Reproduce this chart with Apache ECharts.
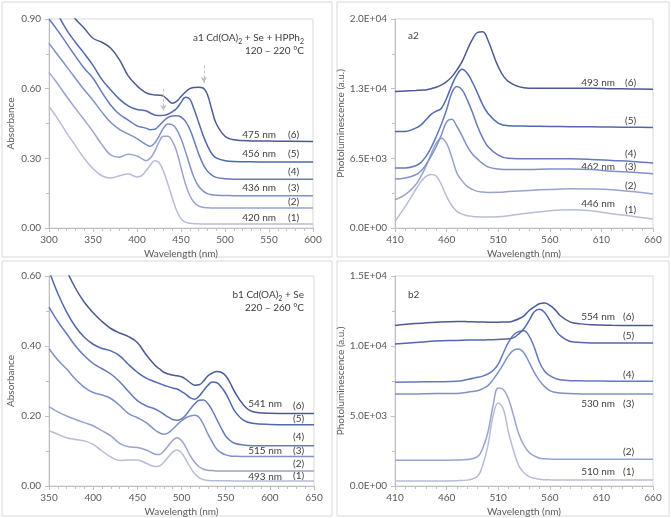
<!DOCTYPE html>
<html><head><meta charset="utf-8">
<script src="https://cdn.jsdelivr.net/npm/echarts@6/dist/echarts.min.js"></script>
<style>html,body{margin:0;padding:0;background:#fff}#c{width:671px;height:518px}</style>
</head><body><div id="c"></div>
<script>
// ---------- DATA ----------
// Panel a1: absorbance, Cd(OA)2 + Se + HPPh2, 120-220 C
const a1X = [300,310,320,330,340,350,360,370,380,390,400,405,410,415,420,425,430,435,440,445,450,455,460,465,470,475,480,485,490,500,510,530,560,600];
const a1Y1 = [0.523,0.47,0.41,0.355,0.30,0.255,0.225,0.215,0.225,0.232,0.22,0.225,0.245,0.27,0.29,0.282,0.245,0.19,0.13,0.075,0.04,0.025,0.02,0.018,0.018,0.017,0.017,0.017,0.017,0.017,0.017,0.017,0.017,0.017];
const a1Y2 = [0.67,0.62,0.566,0.515,0.466,0.415,0.36,0.315,0.305,0.318,0.31,0.30,0.29,0.30,0.33,0.37,0.395,0.395,0.375,0.33,0.26,0.19,0.14,0.11,0.095,0.089,0.087,0.086,0.086,0.086,0.086,0.086,0.086,0.086];
const a1Y3 = [0.795,0.745,0.695,0.645,0.595,0.55,0.50,0.455,0.425,0.405,0.385,0.372,0.36,0.352,0.365,0.395,0.43,0.448,0.445,0.425,0.385,0.33,0.27,0.215,0.18,0.16,0.148,0.143,0.141,0.14,0.139,0.139,0.139,0.139];
const a1Y4 = [0.90,0.85,0.795,0.74,0.688,0.645,0.585,0.53,0.49,0.465,0.44,0.435,0.43,0.423,0.425,0.44,0.46,0.475,0.482,0.483,0.478,0.46,0.425,0.375,0.32,0.275,0.245,0.228,0.218,0.212,0.21,0.21,0.21,0.21];
const a1Y5 = [0.99,0.92,0.853,0.80,0.752,0.70,0.64,0.595,0.555,0.526,0.51,0.508,0.505,0.495,0.487,0.484,0.485,0.49,0.50,0.515,0.54,0.563,0.555,0.51,0.455,0.40,0.355,0.32,0.302,0.29,0.286,0.285,0.284,0.284];
const a1Y6 = [1.05,1.0,0.95,0.90,0.86,0.817,0.80,0.775,0.725,0.655,0.612,0.596,0.583,0.576,0.573,0.572,0.568,0.552,0.537,0.545,0.566,0.585,0.60,0.605,0.606,0.603,0.575,0.51,0.45,0.395,0.38,0.375,0.374,0.373];

// Panel a2: photoluminescence
const a2X = [410,420,430,435,440,445,450,455,460,465,470,475,480,485,490,495,500,510,520,540,560,580,600,620,640,660];
const a2Y1 = [620,2018,3570,4300,4813,5000,4850,4036,2950,2100,1553,1300,1149,1080,1050,1030,1025,1050,1149,1397,1615,1708,1615,1335,1087,838];
const a2Y2 = [2639,3105,4036,4800,5744,6900,7918,8384,7900,6600,5123,4400,3881,3600,3416,3350,3322,3330,3400,3509,3600,3664,3640,3571,3400,3167];
const a2Y3 = [4564,4658,4968,5300,5900,6700,7607,8700,9900,10150,9470,8600,7607,6900,6427,6000,5700,5500,5450,5450,5500,5500,5450,5300,5200,5061];
const a2Y4 = [5589,5600,5806,6100,6676,7500,8539,9700,11023,12600,13200,12886,11954,10800,9470,8400,7607,6800,6500,6450,6450,6450,6400,6300,6200,6055];
const a2Y5 = [9005,9005,9315,9600,10091,10600,10900,11178,12109,13300,14283,14811,14439,13600,12575,11500,10712,9781,9532,9500,9470,9450,9439,9420,9400,9377];
const a2Y6 = [12731,12780,12830,12860,12886,13000,13134,13350,13662,14100,14749,15525,16612,17600,18250,18300,17543,15060,13662,13041,13041,13041,13041,13000,12970,12948];

// Panel b1: absorbance, Cd(OA)2 + Se, 220-260 C
const b1X = [350,360,370,380,390,400,410,420,430,440,450,460,470,475,480,485,490,495,500,505,510,515,520,525,530,535,540,545,550,555,560,570,580,600,650];
const b1Y1 = [0.158,0.148,0.138,0.133,0.129,0.119,0.10,0.083,0.073,0.074,0.074,0.065,0.056,0.057,0.068,0.083,0.097,0.103,0.095,0.075,0.053,0.035,0.024,0.018,0.016,0.015,0.015,0.015,0.015,0.015,0.014,0.014,0.014,0.014,0.014];
const b1Y2 = [0.227,0.212,0.20,0.19,0.181,0.172,0.158,0.143,0.122,0.112,0.11,0.103,0.091,0.09,0.10,0.115,0.13,0.138,0.13,0.11,0.086,0.068,0.055,0.048,0.045,0.044,0.043,0.043,0.043,0.043,0.043,0.043,0.043,0.043,0.043];
const b1Y3 = [0.392,0.36,0.334,0.305,0.282,0.267,0.26,0.25,0.23,0.207,0.195,0.181,0.16,0.152,0.148,0.152,0.162,0.175,0.186,0.195,0.20,0.202,0.196,0.175,0.148,0.125,0.105,0.095,0.089,0.086,0.085,0.084,0.084,0.084,0.084];
const b1Y4 = [0.511,0.47,0.435,0.40,0.372,0.35,0.335,0.32,0.298,0.27,0.244,0.229,0.22,0.213,0.205,0.197,0.19,0.188,0.192,0.203,0.22,0.235,0.245,0.246,0.235,0.215,0.19,0.165,0.143,0.13,0.122,0.117,0.115,0.115,0.115];
const b1Y5 = [0.615,0.55,0.497,0.455,0.425,0.405,0.393,0.386,0.372,0.347,0.325,0.308,0.298,0.293,0.288,0.284,0.28,0.277,0.27,0.262,0.252,0.248,0.257,0.273,0.288,0.297,0.295,0.283,0.265,0.24,0.215,0.188,0.179,0.176,0.175];
const b1Y6 = [0.73,0.67,0.615,0.565,0.525,0.495,0.47,0.45,0.437,0.427,0.41,0.375,0.345,0.335,0.325,0.32,0.317,0.315,0.312,0.305,0.295,0.288,0.289,0.30,0.315,0.323,0.327,0.325,0.315,0.295,0.27,0.232,0.213,0.208,0.207];

// Panel b2: photoluminescence
const b2X = [410,430,450,470,480,490,495,500,505,510,515,520,525,530,535,540,545,550,555,560,565,570,580,590,600,620,640,660];
const b2Y1 = [358,358,358,380,420,700,1500,2866,5016,5923,5494,3822,2500,1433,950,669,550,480,450,440,435,432,430,430,430,430,430,430];
const b2Y2 = [1839,1839,1839,1860,1900,2100,2700,3822,5732,7000,6900,6210,5000,3702,2900,2388,2150,1982,1940,1920,1915,1911,1911,1911,1911,1911,1911,1911];
const b2Y3 = [6568,6580,6600,6616,6700,6807,6950,7166,7600,8121,8700,9315,9700,9793,9500,8837,8100,7524,7100,6807,6700,6640,6600,6580,6568,6568,6568,6568];
const b2Y4 = [7404,7430,7450,7476,7600,7763,7850,8001,8250,8700,9500,10271,10800,11035,11083,10700,9900,8837,8200,7882,7700,7595,7524,7510,7500,7490,7480,7476];
const b2Y5 = [10151,10250,10350,10400,10420,10430,10435,10438,10450,10470,10490,10510,10600,10868,11250,11823,12450,12620,12400,11823,11200,10748,10318,10250,10223,10223,10223,10223];
const b2Y6 = [11465,11600,11700,11750,11740,11720,11710,11704,11704,11704,11710,11720,11800,11943,12150,12540,12800,13017,13065,12898,12600,12181,11704,11580,11513,11480,11470,11465];

// Annotation texts
const a1Title = ['a1 Cd(OA)', '2', ' + Se + HPPh', '2'];
const a1Temp = '120 \u2013 220 \u00b0C';
const b1Title = ['b1 Cd(OA)', '2', ' + Se'];
const b1Temp = '220 \u2013 260 \u00b0C';
const a1Peaks = ['475 nm', '456 nm', '', '436 nm', '', '420 nm'];
const a2Peaks = ['493 nm', '', '', '462 nm', '', '446 nm'];
const b1Peaks = ['541 nm', '', '', '515 nm', '', '493 nm'];
const b2Peaks = ['554 nm', '', '', '530 nm', '', '510 nm'];
const curveTags = ['(6)', '(5)', '(4)', '(3)', '(2)', '(1)'];
const arrowX = [430, 476];

// ---------- STYLE / LAYOUT ----------
const F = 'Lato, "Open Sans", sans-serif';
const colors = ['#b9bcd6', '#9aa3cf', '#8091c8', '#6579bd', '#5268ae', '#4c5a94'];
const axisGray = '#bfbfbf';
const labelGray = '#595959';
const textDark = '#404040';

function sci(v) {
  if (v === 0) return '0.0E+00';
  let e = Math.floor(Math.log10(Math.abs(v)) + 1e-9);
  let m = Math.round(v / Math.pow(10, e) * 10 + 1e-6) / 10;
  if (m >= 10) { m = m / 10; e++; }
  return m.toFixed(1) + 'E' + (e < 0 ? '-' : '+') + String(Math.abs(e)).padStart(2, '0');
}

const grids = [
  {left: 49, top: 19, width: 264, height: 209},
  {left: 395, top: 19, width: 258, height: 209},
  {left: 49, top: 276, width: 265, height: 210},
  {left: 395, top: 276, width: 258, height: 210}
].map(g => Object.assign({show: true, borderColor: '#d9d9d9', borderWidth: 1, backgroundColor: 'transparent'}, g));

function xAx(gi, min, max) {
  return {
    type: 'value', gridIndex: gi, min: min, max: max, interval: 50,
    axisLine: {lineStyle: {color: axisGray}},
    axisTick: {length: 4, lineStyle: {color: axisGray}},
    minorTick: {show: true, splitNumber: 5, length: 3, lineStyle: {color: axisGray}},
    splitLine: {show: false}, minorSplitLine: {show: false},
    axisLabel: {color: labelGray, fontSize: 10, fontFamily: F, margin: 7},
    name: 'Wavelength (nm)', nameLocation: 'middle', nameGap: 21,
    nameTextStyle: {color: labelGray, fontSize: 10, fontFamily: F}
  };
}
function yAx(gi, max, interval, name, fmt, gap) {
  return {
    type: 'value', gridIndex: gi, min: 0, max: max, interval: interval,
    axisLine: {show: true, lineStyle: {color: axisGray}},
    axisTick: {show: true, length: 4, lineStyle: {color: axisGray}},
    minorTick: {show: true, splitNumber: 2, length: 3, lineStyle: {color: axisGray}},
    splitLine: {show: false}, minorSplitLine: {show: false},
    axisLabel: {color: labelGray, fontSize: 10, fontFamily: F, margin: 8, formatter: fmt},
    name: name, nameLocation: 'middle', nameGap: gap,
    nameTextStyle: {color: labelGray, fontSize: 10, fontFamily: F}
  };
}

const panels = [
  {X: a1X, Ys: [a1Y1, a1Y2, a1Y3, a1Y4, a1Y5, a1Y6]},
  {X: a2X, Ys: [a2Y1, a2Y2, a2Y3, a2Y4, a2Y5, a2Y6]},
  {X: b1X, Ys: [b1Y1, b1Y2, b1Y3, b1Y4, b1Y5, b1Y6]},
  {X: b2X, Ys: [b2Y1, b2Y2, b2Y3, b2Y4, b2Y5, b2Y6]}
];

const series = [];
panels.forEach((p, gi) => {
  p.Ys.forEach((Y, i) => {
    series.push({
      type: 'line', xAxisIndex: gi, yAxisIndex: gi, smooth: 0.4, showSymbol: false, symbol: 'none',
      clip: true, silent: true,
      lineStyle: {color: colors[i], width: 1.5},
      data: p.X.map((x, j) => [x, Y[j]])
    });
  });
});
// dashed arrows in a1
series.push({
  type: 'line', xAxisIndex: 0, yAxisIndex: 0, data: [], silent: true,
  markLine: {
    silent: true, symbol: ['none', 'arrow'], symbolSize: [5, 6],
    label: {show: false},
    lineStyle: {color: '#c0c0c0', type: [3, 2], width: 1},
    data: [
      [{coord: [arrowX[0], 0.60]}, {coord: [arrowX[0], 0.505]}],
      [{coord: [arrowX[1], 0.70]}, {coord: [arrowX[1], 0.625]}]
    ]
  }
});

// ---------- annotation graphics ----------
const graphic = [];
[[2, 2, 330, 255], [337, 2, 332, 255], [2, 261, 330, 255], [337, 261, 332, 255]].forEach(r => {
  graphic.push({type: 'rect', shape: {x: r[0], y: r[1], width: r[2], height: r[3]}, style: {fill: 'none', stroke: '#d9d9d9', lineWidth: 1}, z: -1, silent: true});
});
function txt(x, y, s, align) {
  graphic.push({type: 'text', x: x, y: y, silent: true,
    style: {text: s, fill: textDark, font: '10px ' + F, align: align || 'left', verticalAlign: 'middle'}});
}
function richTitle(x, y, parts) {
  const s = parts.map((t, k) => (k % 2 === 0 ? '{n|' : '{s|') + t + '}').join('');
  graphic.push({type: 'text', x: x, y: y + 1, silent: true,
    style: {text: s, align: 'right', verticalAlign: 'middle',
      rich: {n: {fill: textDark, fontSize: 10, fontFamily: F, lineHeight: 14, verticalAlign: 'middle'},
             s: {fill: textDark, fontSize: 7, fontFamily: F, lineHeight: 14, verticalAlign: 'bottom'}}}});
}
richTitle(304, 37, a1Title); txt(304, 51, a1Temp, 'right');
richTitle(304, 294, b1Title); txt(304, 308, b1Temp, 'right');
txt(408, 36, 'a2'); txt(408, 295, 'b2');

const lay = [
  {peaks: a1Peaks, nx: 276, tx: 288, ys: [135, 154, 172, 188, 202, 218], ny: [135, 154, 172, 188, 202, 218]},
  {peaks: a2Peaks, nx: 615, tx: 625, ys: [83, 121, 154, 167, 186, 210], ny: [83, 121, 154, 167, 186, 204]},
  {peaks: b1Peaks, nx: 282, tx: 293, ys: [406, 419, 437, 451, 464, 476], ny: [404, 419, 437, 451, 464, 477]},
  {peaks: b2Peaks, nx: 615, tx: 623, ys: [317, 336, 375, 404, 452, 472], ny: [317, 336, 375, 404, 452, 472]}
];
lay.forEach(L => {
  curveTags.forEach((t, i) => {
    txt(L.tx, L.ys[i], t);
    if (L.peaks[i]) txt(L.nx, L.ny[i], L.peaks[i], 'right');
  });
});

const chart = echarts.init(document.getElementById('c'), null, {renderer: 'canvas'});
chart.setOption({
  animation: false,
  backgroundColor: '#ffffff',
  grid: grids,
  xAxis: [xAx(0, 300, 600), xAx(1, 410, 660), xAx(2, 350, 650), xAx(3, 410, 660)],
  yAxis: [
    yAx(0, 0.9, 0.3, 'Absorbance', v => v.toFixed(2), 33),
    yAx(1, 19500, 6500, 'Photoluminescence (a.u.)', sci, 47),
    yAx(2, 0.6, 0.2, 'Absorbance', v => v.toFixed(2), 33),
    yAx(3, 15000, 5000, 'Photoluminescence (a.u.)', sci, 47)
  ],
  series: series,
  graphic: graphic
});
</script>
</body></html>
